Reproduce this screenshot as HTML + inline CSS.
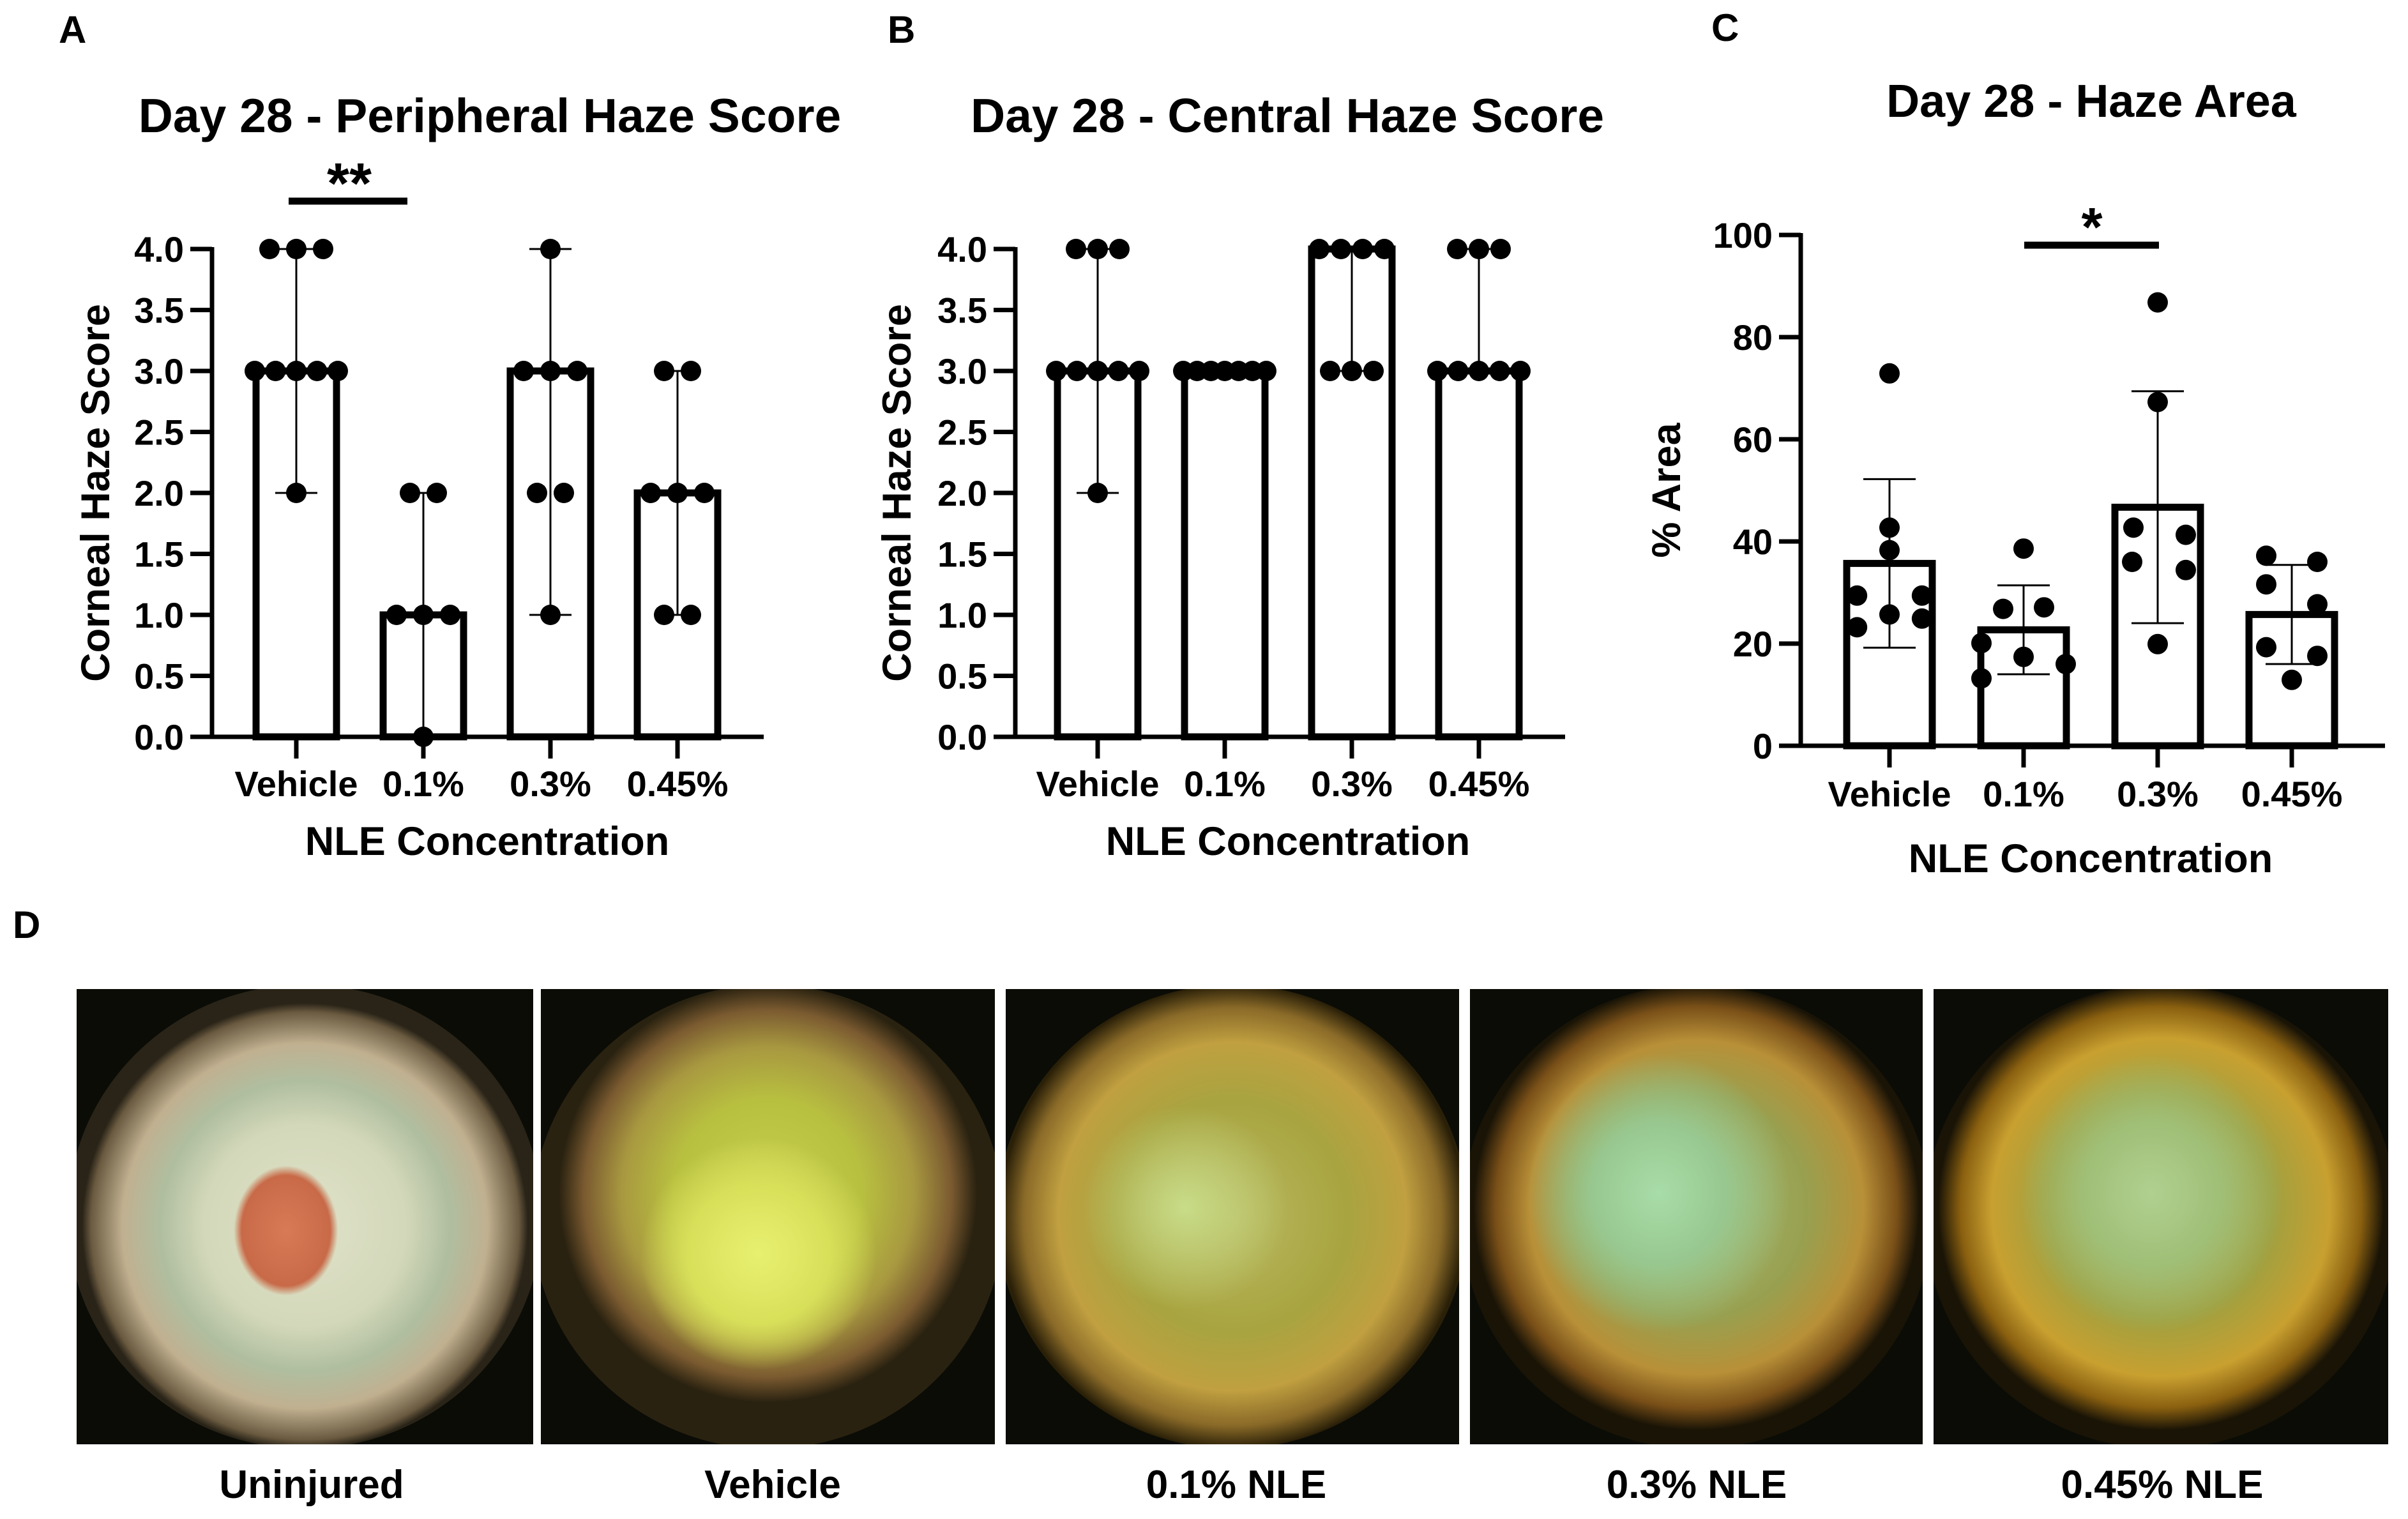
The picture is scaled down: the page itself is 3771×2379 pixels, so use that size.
<!DOCTYPE html>
<html><head><meta charset="utf-8">
<style>
html,body{margin:0;padding:0;background:#fff;}
body{width:3771px;height:2379px;position:relative;overflow:hidden;font-family:"Liberation Sans",Arial,sans-serif;}
svg{position:absolute;left:0;top:0;}
.photo{position:absolute;top:1549px;height:713px;background:#0b0c06;overflow:hidden;}
.eye{position:absolute;left:-2%;top:-1%;width:104%;height:102%;border-radius:50%;}
.plabel{position:absolute;top:2290px;font-weight:bold;font-size:62px;text-align:center;width:600px;color:#000;}
</style></head>
<body>
<svg id="fig" width="3771" height="2379" viewBox="0 0 3771 2379" xmlns="http://www.w3.org/2000/svg" font-family="Liberation Sans, Arial, sans-serif" font-weight="bold"></svg>

<div class="photo" style="left:120px;width:715px;"><div class="eye" style="background:radial-gradient(ellipse 11% 14% at 46% 53%,#d97a56 0%,#c86a48 85%,rgba(140,130,100,0) 100%),radial-gradient(circle closest-side at 50% 52%,#dfe2c8 0%,#d4d8ba 45%,#b0bea0 65%,#c0b090 82%,#6a5a40 96%,#2a2418 100%);"></div></div>
<div class="photo" style="left:847px;width:711px;"><div class="eye" style="background:radial-gradient(ellipse 25% 25% at 48% 58%,#e8f070 0%,#d8e05a 60%,rgba(200,210,80,0) 100%),radial-gradient(circle closest-side at 50% 45%,#c8d050 0%,#b8c040 45%,#a89840 70%,#7a5a30 88%,#2a2210 100%);"></div></div>
<div class="photo" style="left:1575px;width:710px;"><div class="eye" style="background:radial-gradient(ellipse 22% 22% at 40% 48%,#c8dc88 0%,rgba(190,200,110,0) 100%),radial-gradient(circle closest-side at 50% 50%,#b8b860 0%,#a8a440 50%,#c0a040 75%,#8a6a28 90%,#2a2008 100%);"></div></div>
<div class="photo" style="left:2302px;width:709px;"><div class="eye" style="background:radial-gradient(ellipse 28% 30% at 42% 45%,#a8dca8 0%,#98c890 50%,rgba(150,180,100,0) 100%),radial-gradient(circle closest-side at 50% 48%,#a8b870 0%,#98a050 50%,#b89038 75%,#7a5018 90%,#1a1406 100%);"></div></div>
<div class="photo" style="left:3028px;width:712px;"><div class="eye" style="background:radial-gradient(ellipse 28% 30% at 48% 45%,#b0d090 0%,#a0c078 50%,rgba(160,180,90,0) 100%),radial-gradient(circle closest-side at 50% 48%,#a8b060 0%,#a0a040 50%,#c8a030 76%,#8a6010 90%,#1a1406 100%);"></div></div>

<div class="plabel" style="left:188px;">Uninjured</div>
<div class="plabel" style="left:910px;">Vehicle</div>
<div class="plabel" style="left:1636px;">0.1% NLE</div>
<div class="plabel" style="left:2357px;">0.3% NLE</div>
<div class="plabel" style="left:3086px;">0.45% NLE</div>

<script>
// ---- data ----
const categories = ["Vehicle", "0.1%", "0.3%", "0.45%"];
const scoreTicks = ["0.0","0.5","1.0","1.5","2.0","2.5","3.0","3.5","4.0"];
const areaTicks = ["0","20","40","60","80","100"];

// Panel A: peripheral haze score (individual scores)
const periphVehicle = [4,4,4,3,3,3,3,3,2];
const periph01 = [2,2,1,1,1,0];
const periph03 = [4,3,3,3,2,2,1];
const periph045 = [3,3,2,2,2,1,1];
const periphMedian = [3,1,3,2];

// Panel B: central haze score
const centralVehicle = [4,4,4,3,3,3,3,3,2];
const central01 = [3,3,3,3,3,3,3];
const central03 = [4,4,4,4,3,3,3];
const central045 = [4,4,4,3,3,3,3,3];
const centralMedian = [3,3,4,3];

// Panel C: haze area (%)
const areaVehicle = [72.9,42.7,38.3,29.4,29.4,25.7,23.2,24.9];
const area01 = [38.6,26.8,27.1,20.1,17.4,16.0,13.2];
const area03 = [86.8,67.3,42.7,41.3,36.0,34.4,19.9];
const area045 = [37.2,36.0,31.6,27.7,19.3,17.6,12.9];
const areaMean = [35.7,22.7,46.7,25.7];
const areaSD = [16.5,8.7,22.7,9.7];
// horizontal jitter of dots (in dot-spread units)
const jitVehicle = [0,0,0,-1.27,1.27,0,-1.27,1.27];
const jit01 = [0,-0.8,0.8,-1.65,0,1.65,-1.65];
const jit03 = [0,0,-0.95,1.1,-1,1.1,0];
const jit045 = [-1,1,-1,1,-1,1,0];

const NS = "http://www.w3.org/2000/svg";
const svg = document.getElementById("fig");
function mk(tag, attrs, parent){
  const e = document.createElementNS(NS, tag);
  for (const k in attrs) e.setAttribute(k, attrs[k]);
  (parent||svg).appendChild(e);
  return e;
}
function txt(s, x, y, size, anchor, parent, extra){
  const t = mk("text", Object.assign({x:x, y:y, "font-size":size, "text-anchor":anchor||"middle", fill:"#000"}, extra||{}), parent);
  t.textContent = s;
  return t;
}

function drawAxes(g, cfg, ticks, tickVals, yScale, xPos){
  const ya = mk("line", {x1:cfg.axisX, y1:yScale(tickVals[tickVals.length-1])-3, x2:cfg.axisX, y2:cfg.y0+3, stroke:"#000","stroke-width":7}, g);
  
  
  ticks.forEach((lab, i) => {
    const y = yScale(tickVals[i]);
    const tl = mk("line", {x1:cfg.axisX-34, y1:y, x2:cfg.axisX, y2:y, stroke:"#000","stroke-width":7}, g);
    
    
    const t = txt(lab, cfg.axisX-44, y+20, 56, "end", g);
    
    
  });
  const xa = mk("line", {x1:cfg.axisX-34, y1:cfg.y0, x2:cfg.xEnd, y2:cfg.y0, stroke:"#000","stroke-width":7}, g);
  
  
  categories.forEach((c, i) => {
    const x = xPos(i);
    const tk = mk("line", {x1:x, y1:cfg.y0, x2:x, y2:cfg.y0+34, stroke:"#000","stroke-width":7}, g);
    
    
    const t = txt(c, x, cfg.xLabY, 56, "middle", g);
    
    
  });
  const xt = txt("NLE Concentration", cfg.xTitleX, cfg.xTitleY, 63, "middle", g);
  
  
  const yt = txt(cfg.yTitle, 0, 0, 63, "middle", g, {transform:"translate("+(cfg.yTitleX+22)+","+cfg.yTitleY+") rotate(-90)"});
  
  
  const tt = txt(cfg.title, cfg.titleX, cfg.titleY, cfg.titleSize, "middle", g);
  
  
  const pl = txt(cfg.letter, cfg.letterX, cfg.letterY, 60, "start", g);
  
  
}

function scoreChart(cfg, groups, medians){
  const g = mk("g", {});
  
  
  const yScale = v => cfg.y0 - (v/4)*(cfg.y0-cfg.y4);
  const xPos = i => cfg.x0 + i*cfg.dx;
  const tickVals = scoreTicks.map(Number);
  drawAxes(g, cfg, scoreTicks, tickVals, yScale, xPos);
  groups.forEach((vals, i) => {
    const cx = xPos(i);
    const bar = mk("rect", {x:cx-63, y:yScale(medians[i]), width:126, height:cfg.y0-yScale(medians[i]), fill:"#fff", stroke:"#000", "stroke-width":11}, g);
    
    
    const mn = Math.min(...vals), mx = Math.max(...vals);
    if (mx > mn) {
      const wl = mk("line", {x1:cx, y1:yScale(mx), x2:cx, y2:yScale(mn), stroke:"#000","stroke-width":3}, g);
      
      
      [mn, mx].forEach(v => {
        const cp = mk("line", {x1:cx-33, y1:yScale(v), x2:cx+33, y2:yScale(v), stroke:"#000","stroke-width":3}, g);
        
        
      });
    }
    const counts = {};
    vals.forEach(v => counts[v] = (counts[v]||0)+1);
    const seen = {};
    vals.forEach(v => {
      const n = counts[v]; const k = seen[v] = (seen[v]===undefined?0:seen[v]+1);
      const sp = n>1 ? Math.min(cfg.spread, 130/(n-1)) : 0;
      const d = mk("circle", {cx:cx+(k-(n-1)/2)*sp, cy:yScale(v), r:16, fill:"#000"}, g);
      
      
    });
  });
  return {g, xPos};
}

// Panel A
const A = scoreChart({name:"panel-a-peripheral-haze", axisX:332, y0:1154, y4:390, x0:464, dx:199, xEnd:1196,
  xLabY:1247, xTitleX:763, xTitleY:1339, yTitle:"Corneal Haze Score", yTitleX:149, yTitleY:772,
  title:"Day 28 - Peripheral Haze Score", titleX:767, titleY:207, titleSize:75, letter:"A", letterX:92, letterY:67, spread:42},
  [periphVehicle, periph01, periph03, periph045], periphMedian);
const sigA = mk("line", {x1:452, y1:315, x2:638, y2:315, stroke:"#000","stroke-width":11}, A.g);


const sA = txt("**", 547, 318, 90, "middle", A.g);



// Panel B
scoreChart({name:"panel-b-central-haze", axisX:1590, y0:1154, y4:390, x0:1719, dx:199, xEnd:2451,
  xLabY:1247, xTitleX:2017, xTitleY:1339, yTitle:"Corneal Haze Score", yTitleX:1404, yTitleY:772,
  title:"Day 28 - Central Haze Score", titleX:2016, titleY:207, titleSize:75, letter:"B", letterX:1390, letterY:67, spread:34},
  [centralVehicle, central01, central03, central045], centralMedian);

// Panel C
(function(){
  const cfg = {axisX:2820, y0:1168, xEnd:3735, xLabY:1263, xTitleX:3274, xTitleY:1366, yTitle:"% Area",
    yTitleX:2609, yTitleY:768, title:"Day 28 - Haze Area", titleX:3275, titleY:183, titleSize:72,
    letter:"C", letterX:2680, letterY:64};
  const g = mk("g", {});
  
  
  const yScale = v => 1168 - v/100*800;
  const xPos = i => 2959 + i*210;
  drawAxes(g, cfg, areaTicks, areaTicks.map(Number), yScale, xPos);
  const groups = [areaVehicle, area01, area03, area045];
  const jits = [jitVehicle, jit01, jit03, jit045];
  groups.forEach((vals, i) => {
    const cx = xPos(i);
    const bar = mk("rect", {x:cx-67, y:yScale(areaMean[i]), width:134, height:1168-yScale(areaMean[i]), fill:"#fff", stroke:"#000","stroke-width":11}, g);
    
    
    vals.forEach((v, k) => {
      const d = mk("circle", {cx:cx+jits[i][k]*40, cy:yScale(v), r:16, fill:"#000"}, g);
      
      
    });
    const hi = areaMean[i]+areaSD[i], lo = areaMean[i]-areaSD[i];
    const el = mk("line", {x1:cx, y1:yScale(hi), x2:cx, y2:yScale(lo), stroke:"#000","stroke-width":3}, g);
    
    
    [hi, lo].forEach(v => {
      const cp = mk("line", {x1:cx-41, y1:yScale(v), x2:cx+41, y2:yScale(v), stroke:"#000","stroke-width":3}, g);
      
      
    });
  });
  const sig = mk("line", {x1:3170, y1:384, x2:3381, y2:384, stroke:"#000","stroke-width":11}, g);
  
  
  const s = txt("*", 3276, 385, 85, "middle", g);
  
  
})();

const dl = txt("D", 20, 1469, 60, "start");


</script>
</body></html>
